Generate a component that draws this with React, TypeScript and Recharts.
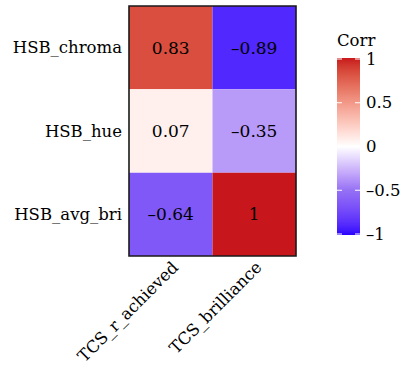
import React from "react";
import { ScatterChart, Scatter, XAxis, YAxis, ReferenceArea, Legend } from "recharts";

const rowNames = ["HSB_chroma", "HSB_hue", "HSB_avg_bri"];
const colNames = ["TCS_r_achieved", "TCS_brilliance"];
const rAchieved = [0.83, 0.07, -0.64];
const brilliance = [-0.89, -0.35, 1];
const legendTicks = [1, 0.5, 0, -0.5, -1];

// colour scale stops (value -> colour), interpolated in Lab
const scaleStops: [number, string][] = [
  [-1, "#2A00FF"],
  [-0.5, "#9470F5"],
  [0, "#FFFFFF"],
  [1, "#C8171C"],
];

const FONT = "'DejaVu Serif', serif";

const toLin = (c: number) => (c <= 0.04045 ? c / 12.92 : Math.pow((c + 0.055) / 1.055, 2.4));
const toSrgb = (c: number) => (c <= 0.0031308 ? 12.92 * c : 1.055 * Math.pow(c, 1 / 2.4) - 0.055);
const fLab = (t: number) => (t > 0.008856 ? Math.cbrt(t) : 7.787 * t + 16 / 116);
const fInv = (t: number) => (t > 0.206893 ? t * t * t : (t - 16 / 116) / 7.787);

function hexToLab(hex: string) {
  const r = toLin(parseInt(hex.slice(1, 3), 16) / 255);
  const g = toLin(parseInt(hex.slice(3, 5), 16) / 255);
  const b = toLin(parseInt(hex.slice(5, 7), 16) / 255);
  const X = (0.4124 * r + 0.3576 * g + 0.1805 * b) / 0.95047;
  const Y = 0.2126 * r + 0.7152 * g + 0.0722 * b;
  const Z = (0.0193 * r + 0.1192 * g + 0.9505 * b) / 1.08883;
  const fx = fLab(X), fy = fLab(Y), fz = fLab(Z);
  return [116 * fy - 16, 500 * (fx - fy), 200 * (fy - fz)];
}

function labToHex([L, a, b]: number[]) {
  const fy = (L + 16) / 116;
  const X = 0.95047 * fInv(fy + a / 500);
  const Y = fInv(fy);
  const Z = 1.08883 * fInv(fy - b / 200);
  const rgb = [
    3.2406 * X - 1.5372 * Y - 0.4986 * Z,
    -0.9689 * X + 1.8758 * Y + 0.0415 * Z,
    0.0557 * X - 0.204 * Y + 1.057 * Z,
  ].map((c) => Math.round(Math.min(1, Math.max(0, toSrgb(c))) * 255));
  return "#" + rgb.map((c) => c.toString(16).padStart(2, "0")).join("");
}

function corrColor(v: number) {
  for (let i = 0; i < scaleStops.length - 1; i++) {
    const [v0, c0] = scaleStops[i];
    const [v1, c1] = scaleStops[i + 1];
    if (v >= v0 && v <= v1) {
      const t = (v - v0) / (v1 - v0);
      const l0 = hexToLab(c0), l1 = hexToLab(c1);
      return labToHex(l0.map((x, k) => x + (l1[k] - x) * t));
    }
  }
  return "#FFFFFF";
}

// ggplot prints a short dash for negatives
const fmt = (v: number) => String(v).replace("-", "\u2013");

const nRows = rowNames.length;
const cells = [rAchieved, brilliance].flatMap((col, c) =>
  col.map((value, r) => ({ x: c + 0.5, y: nRows - r - 0.5, value }))
);

const YTick = ({ x, y, payload }: any) => (
  <text x={x} y={y} textAnchor="end" dominantBaseline="central" fontFamily={FONT} fontSize={16.5} fill="#000">
    {rowNames[Math.round(nRows - 0.5 - payload.value)]}
  </text>
);

const XTick = ({ x, y, payload }: any) => (
  <text
    transform={`translate(${x},${y}) rotate(-45)`}
    textAnchor="end"
    dy="0.72em"
    fontFamily={FONT}
    fontSize={16.5}
    fill="#000"
  >
    {colNames[Math.round(payload.value - 0.5)]}
  </text>
);

const CellLabel = ({ cx, cy, payload }: any) => (
  <text x={cx} y={cy} textAnchor="middle" dominantBaseline="central" fontFamily={FONT} fontSize={17} fill="#000">
    {fmt(payload.value)}
  </text>
);

const ColorBar = () => {
  const x0 = 12, x1 = 35;
  const yOf = (v: number) => 121.5 - v * 87.5;
  const gradVals = Array.from({ length: 41 }, (_, i) => 1 - i * 0.05);
  return (
    <svg width={89} height={230} style={{ display: "block" }}>
      <defs>
        <linearGradient id="corrGrad" x1="0" y1="0" x2="0" y2="1">
          {gradVals.map((v, i) => (
            <stop key={i} offset={`${(i / 40) * 100}%`} stopColor={corrColor(Math.max(-1, Math.min(1, v)))} />
          ))}
        </linearGradient>
      </defs>
      <text x={12} y={21} fontFamily={FONT} fontSize={16.5} fill="#000">
        Corr
      </text>
      <rect x={x0} y={yOf(1) - 1} width={x1 - x0} height={yOf(-1) - yOf(1) + 2} fill="url(#corrGrad)" />
      {legendTicks.map((t) => (
        <g key={t}>
          <line x1={x0} x2={x0 + 5} y1={yOf(t)} y2={yOf(t)} stroke="#fff" strokeWidth={1} />
          <line x1={x1 - 5} x2={x1} y1={yOf(t)} y2={yOf(t)} stroke="#fff" strokeWidth={1} />
          <text x={41} y={yOf(t)} dominantBaseline="central" fontFamily={FONT} fontSize={16.5} fill="#000">
            {fmt(t)}
          </text>
        </g>
      ))}
    </svg>
  );
};

export default function App() {
  return (
    <div style={{ position: "absolute", left: 0, top: 0 }}>
      <ScatterChart width={414} height={368} margin={{ top: 6, right: 118, bottom: 0, left: 0 }}>
        <XAxis
          type="number"
          dataKey="x"
          domain={[0, 2]}
          ticks={[0.5, 1.5]}
          height={112}
          axisLine={false}
          tickLine={false}
          tickSize={0}
          tickMargin={4}
          tick={<XTick />}
        />
        <YAxis
          type="number"
          dataKey="y"
          domain={[0, 3]}
          ticks={[2.5, 1.5, 0.5]}
          width={129}
          axisLine={false}
          tickLine={false}
          tickSize={0}
          tickMargin={7}
          tick={<YTick />}
        />
        {cells.map((d, i) => (
          <ReferenceArea
            key={i}
            x1={d.x - 0.5}
            x2={d.x + 0.5}
            y1={d.y - 0.5}
            y2={d.y + 0.5}
            fill={corrColor(d.value)}
            fillOpacity={1}
            stroke="none"
          />
        ))}
        <ReferenceArea x1={0} x2={2} y1={0} y2={3} fill="none" stroke="#1a1a1a" strokeWidth={1.6} />
        <Scatter data={cells} isAnimationActive={false} shape={<CellLabel />} />
        <Legend
          layout="horizontal"
          verticalAlign="middle"
          align="center"
          content={<ColorBar />}
          wrapperStyle={{ position: "absolute", left: 325, top: 25, width: 89, height: 230 }}
        />
      </ScatterChart>
    </div>
  );
}
